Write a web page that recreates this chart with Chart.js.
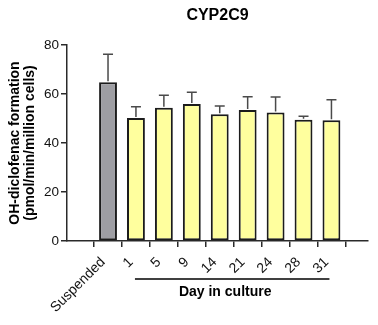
<!DOCTYPE html>
<html>
<head>
<meta charset="utf-8">
<script src="https://cdn.jsdelivr.net/npm/chart.js@4"></script>
<style>
    html, body { margin: 0; padding: 0; background: #fff; }
    #wrap { width: 378px; height: 325px; }
</style>
</head>
<body>
<div id="wrap"><canvas id="grafico"></canvas></div>
<script>
const categorias = ['Suspended', '1', '5', '9', '14', '21', '24', '28', '31'];
const medias = [64.8, 50.2, 54.4, 55.9, 51.7, 53.5, 52.4, 49.5, 49.3];
const erros = [11.4, 4.6, 5.1, 4.8, 3.4, 5.4, 6.4, 1.4, 8.4];
const coresBarras = ['#9e9ea3', '#ffff9e', '#ffff9e', '#ffff9e', '#ffff9e', '#ffff9e', '#ffff9e', '#ffff9e', '#ffff9e'];
const yTicks = [0, 20, 40, 60, 80];

const fonte = "Arial, 'Liberation Sans', sans-serif";

// barras de erro (só para cima) e o rótulo "Day in culture"
const extras = {
    id: 'extras',
    afterDatasetsDraw(chart) {
        const ctx = chart.ctx;
        const x = chart.scales.x;
        const y = chart.scales.y;
        ctx.save();
        ctx.strokeStyle = '#4a4a4a';
        ctx.lineWidth = 1.5;
        medias.forEach((m, i) => {
            const px = x.getPixelForValue(i);
            const topo = y.getPixelForValue(m + erros[i]);
            ctx.beginPath();
            ctx.moveTo(px, y.getPixelForValue(m) - 1);
            ctx.lineTo(px, topo);
            ctx.moveTo(px - 5, topo);
            ctx.lineTo(px + 5, topo);
            ctx.stroke();
        });

        const base = chart.chartArea.bottom;
        const x1 = x.getPixelForValue(1) - 1;
        const x2 = x.getPixelForValue(categorias.length - 1) - 2;
        ctx.strokeStyle = '#000';
        ctx.lineWidth = 1.3;
        ctx.beginPath();
        ctx.moveTo(x1, base + 38);
        ctx.lineTo(x2, base + 38);
        ctx.stroke();

        ctx.fillStyle = '#000';
        ctx.font = `bold 14px ${fonte}`;
        ctx.textAlign = 'center';
        ctx.textBaseline = 'middle';
        ctx.fillText('Day in culture', (x1 + x2) / 2 - 7, base + 51);
        ctx.restore();
    }
};

new Chart(document.getElementById('grafico'), {
    type: 'bar',
    data: {
        datasets: [{
            data: medias.map((v, i) => ({ x: i, y: v })),
            backgroundColor: coresBarras,
            borderColor: '#1c1c1c',
            borderWidth: 2,
            borderSkipped: false,
            categoryPercentage: 1,
            barPercentage: 0.64
        }]
    },
    options: {
        responsive: true,
        maintainAspectRatio: false,
        animation: false,
        events: [],
        layout: { padding: { left: 0, right: 10, top: 0, bottom: 0 } },
        plugins: {
            legend: { display: false },
            tooltip: { enabled: false },
            title: {
                display: true,
                text: 'CYP2C9',
                fullSize: false,
                color: '#000',
                font: { family: fonte, size: 16, weight: 'bold', lineHeight: 1.2 },
                padding: { top: 6, bottom: 19.8 }
            }
        },
        scales: {
            x: {
                type: 'linear',
                min: -0.87,
                max: 8.71,
                afterBuildTicks: s => { s.ticks = categorias.map((_, i) => ({ value: i })); },
                afterFit: s => { s.height = 84; },
                grid: { display: true, drawOnChartArea: false, drawTicks: true, tickLength: 6, color: '#2a2a2a', lineWidth: 1.5 },
                border: { display: true, color: '#2a2a2a', width: 1.5 },
                ticks: {
                    autoSkip: false,
                    minRotation: 45,
                    maxRotation: 45,
                    padding: 7,
                    labelOffset: -5,
                    color: '#111',
                    font: { family: fonte, size: 14 },
                    callback: v => categorias[v]
                }
            },
            y: {
                min: 0,
                max: 80,
                afterBuildTicks: s => { s.ticks = yTicks.map(v => ({ value: v })); },
                afterFit: s => { s.width = 67; },
                grid: { display: true, drawOnChartArea: false, drawTicks: true, tickLength: 6, color: '#2a2a2a', lineWidth: 1.5 },
                border: { display: true, color: '#2a2a2a', width: 1.5 },
                ticks: {
                    padding: 2,
                    color: '#111',
                    font: { family: fonte, size: 13.5 }
                },
                title: {
                    display: true,
                    text: ['OH-diclofenac formation', '(pmol/min/million cells)'],
                    color: '#000',
                    font: { family: fonte, size: 14, weight: 'bold', lineHeight: 1.05 },
                    padding: { top: 8, bottom: 0 }
                }
            }
        }
    },
    plugins: [extras]
});
</script>
</body>
</html>
